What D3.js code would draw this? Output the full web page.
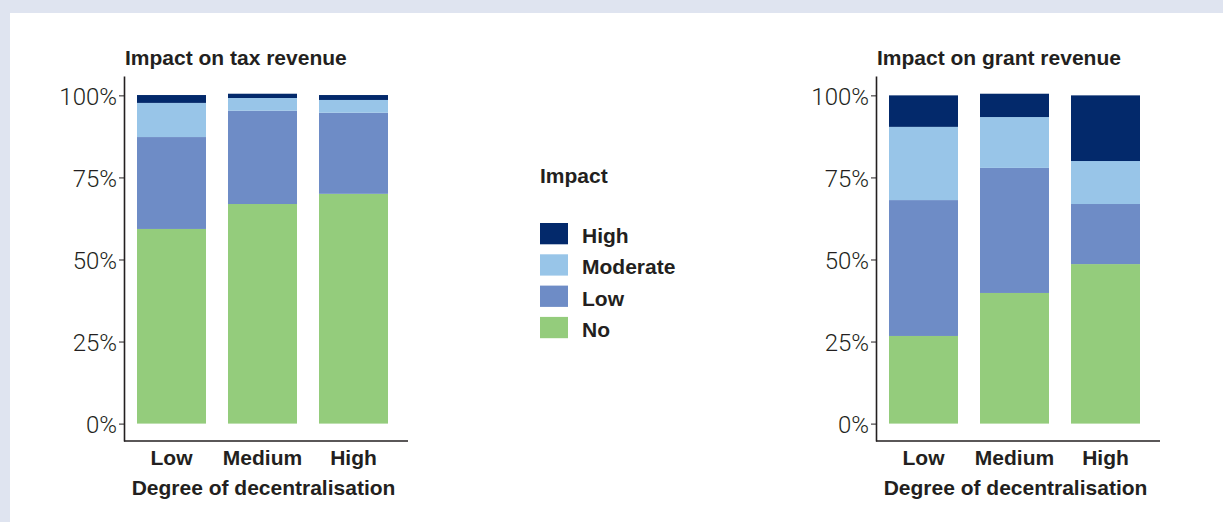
<!DOCTYPE html>
<html>
<head>
<meta charset="utf-8">
<script src="https://cdn.jsdelivr.net/npm/d3@7"></script>
<style>
  html, body { margin: 0; padding: 0; background: #dfe4f0; }
  svg { display: block; }
</style>
</head>
<body>
<svg id="chart" width="1223" height="522"></svg>
<script>
// ---- data ----
const categories = ["Low", "Medium", "High"];
const impactLevels = ["No", "Low", "Moderate", "High"];          // stacking order, bottom to top
const legendOrder = ["High", "Moderate", "Low", "No"];
const taxNo       = [59.3, 66.9, 70.0];
const taxLow      = [28.0, 28.4, 24.7];
const taxModerate = [10.4, 3.9, 3.9];
const taxHigh     = [2.4, 1.3, 1.5];
const grantNo       = [26.7, 39.8, 48.6];
const grantLow      = [41.4, 38.1, 18.3];
const grantModerate = [22.3, 15.5, 13.1];
const grantHigh     = [9.6, 7.1, 20.0];
const yTicks = [0, 25, 50, 75, 100];
const panelTitles = ["Impact on tax revenue", "Impact on grant revenue"];
const xTitle = "Degree of decentralisation";
const legendTitle = "Impact";

const colors = { High: "#03296b", Moderate: "#98c5e8", Low: "#6e8cc6", No: "#94cc7c" };
const textColor = "#231f20";
const boldFont = "'Liberation Sans', Arial, sans-serif";
const tickFont = "Roboto, 'Liberation Sans', sans-serif";

function buildRows(no, low, mod, high) {
  return categories.map((c, i) => ({ cat: c, No: no[i], Low: low[i], Moderate: mod[i], High: high[i] }));
}
const panels = [
  { title: panelTitles[0], rows: buildRows(taxNo, taxLow, taxModerate, taxHigh), x0: 124 },
  { title: panelTitles[1], rows: buildRows(grantNo, grantLow, grantModerate, grantHigh), x0: 876 }
];

const svg = d3.select("#chart");
svg.append("rect").attr("x", 10).attr("y", 13).attr("width", 1213).attr("height", 509).attr("fill", "#ffffff");

const y = d3.scaleLinear().domain([-5.3, 105.9]).range([441, 76]);
const stack = d3.stack().keys(impactLevels);

panels.forEach(p => {
  const g = svg.append("g");
  const axisLeft = p.x0, axisRight = p.x0 + 284;
  const x = d3.scaleBand().domain(categories).range([p.x0 + 13, p.x0 + 264]).paddingInner(0.2418).paddingOuter(0);

  const series = stack(p.rows);
  g.selectAll("g.layer").data(series).join("g")
    .attr("class", "layer")
    .attr("fill", d => colors[d.key])
    .selectAll("rect").data(d => d).join("rect")
      .attr("x", d => x(d.data.cat))
      .attr("width", x.bandwidth())
      .attr("y", d => y(d[1]))
      .attr("height", d => y(d[0]) - y(d[1]));

  // y axis
  const ya = g.append("g").attr("transform", `translate(${axisLeft},0)`)
    .call(d3.axisLeft(y).tickValues(yTicks).tickFormat(d => d + "%").tickSize(5).tickSizeOuter(0).tickPadding(2));
  ya.select(".domain").attr("stroke", textColor).attr("stroke-width", 1.6);
  ya.selectAll(".tick line").attr("stroke", textColor).attr("stroke-width", 1);
  ya.selectAll(".tick text").attr("fill", textColor).attr("font-family", tickFont)
    .attr("font-weight", 300).attr("font-size", 24).attr("dy", "0.36em");

  // x axis
  const xa = g.append("g").attr("transform", "translate(0,441)")
    .call(d3.axisBottom(x).tickSize(0).tickPadding(0));
  xa.select(".domain").remove();
  g.append("line").attr("x1", axisLeft).attr("x2", axisRight).attr("y1", 441).attr("y2", 441)
    .attr("stroke", textColor).attr("stroke-width", 1.6);
  xa.selectAll(".tick text").attr("fill", textColor).attr("font-family", boldFont)
    .attr("font-weight", 700).attr("font-size", 21).attr("dy", null).attr("y", 24);

  g.append("text").attr("x", (x.range()[0] + x.range()[1]) / 2 + 1).attr("y", 495)
    .attr("text-anchor", "middle").attr("fill", textColor)
    .attr("font-family", boldFont).attr("font-weight", 700).attr("font-size", 21)
    .text(xTitle);

  g.append("text").attr("x", axisLeft + 1).attr("y", 65)
    .attr("fill", textColor).attr("font-family", boldFont).attr("font-weight", 700).attr("font-size", 21)
    .text(p.title);
});

// legend
const lg = svg.append("g").attr("transform", "translate(540,0)");
lg.append("text").attr("x", 0).attr("y", 183).attr("fill", textColor)
  .attr("font-family", boldFont).attr("font-weight", 700).attr("font-size", 21).text(legendTitle);
const items = lg.selectAll("g.item").data(legendOrder).join("g")
  .attr("class", "item")
  .attr("transform", (d, i) => `translate(0,${223 + i * 31.3})`);
items.append("rect").attr("width", 28).attr("height", 21.3).attr("fill", d => colors[d]);
items.append("text").attr("x", 42).attr("y", 20).attr("fill", textColor)
  .attr("font-family", boldFont).attr("font-weight", 700).attr("font-size", 21).text(d => d);
</script>
</body>
</html>
